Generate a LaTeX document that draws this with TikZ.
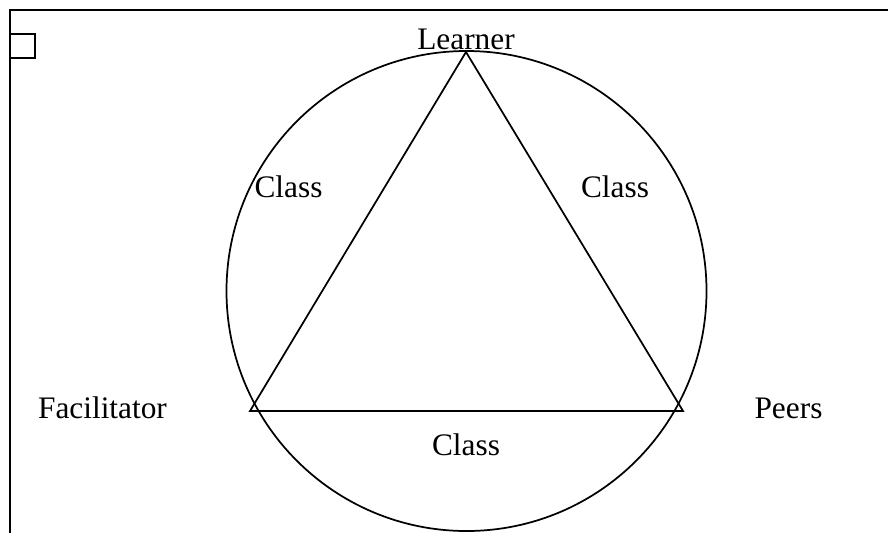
\documentclass[tikz,border=0pt]{standalone}
\usepackage{fontspec}
\setmainfont{Liberation Serif}
\usepackage{tikz}
\usetikzlibrary{positioning, calc}

\tikzset{
  frameline/.style={line width=1.5pt, black},
  shapeline/.style={line width=1.3pt, black, line join=miter},
  lbl/.style={anchor=base, inner sep=0pt, font=\fontsize{23.5}{28}\selectfont}
}

\begin{document}
\begin{tikzpicture}[x=0.75pt, y=-0.75pt]
  \useasboundingbox (0,0) rectangle (888,533);

  % Frame and small box
  \draw[frameline] (888,10) -- (10,10) -- (10,533);
  \draw[shapeline] (10,34) rectangle (35,58);

  % Circle
  \coordinate (centre) at (466.5,291);
  \draw[shapeline] (centre) circle[radius=240];

  % Triangle corners
  \coordinate (apex) at (466,52);
  \coordinate (lft) at (250,411);
  \coordinate (rgt) at (683,411);
  \draw[shapeline] (apex) -- (lft) -- (rgt) -- cycle;

  % Labels
  \node[lbl] (learner) at (466,49) {Learner};
  \node[lbl] (facil) at (102.5,418) {Facilitator};
  \node[lbl] (peers) at (788.5,418) {Peers};
  \node[lbl] (classL) at (288.5,197) {Class};
  \node[lbl] (classR) at (615,197) {Class};
  \node[lbl] (classB) at (466,455) {Class};
\end{tikzpicture}
\end{document}
